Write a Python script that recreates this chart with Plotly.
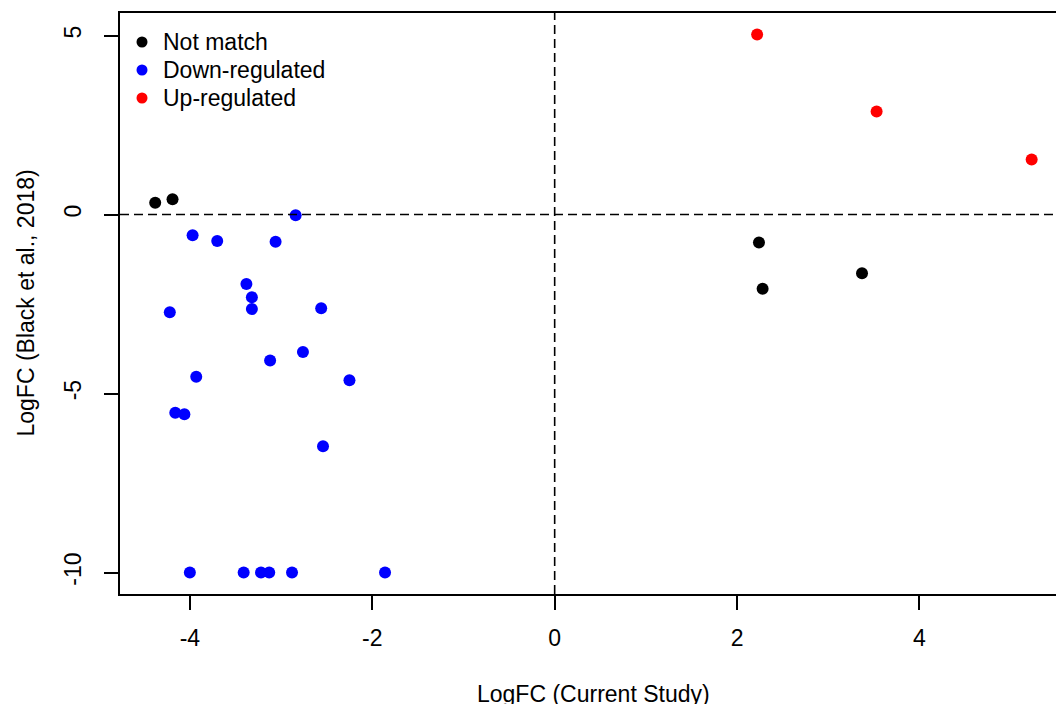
import plotly.graph_objects as go

# ---- data ----
nm_x = [-4.38, -4.19, 2.24, 2.28, 3.37]
nm_y = [0.33, 0.43, -0.78, -2.07, -1.64]

down_x = [-2.84, -3.97, -3.70, -3.06, -3.38, -3.32, -3.32, -4.22, -2.56, -2.76,
          -3.12, -3.93, -2.25, -4.16, -4.06, -2.54,
          -4.00, -3.41, -3.22, -3.13, -2.88, -1.86]
down_y = [-0.02, -0.58, -0.74, -0.76, -1.94, -2.31, -2.64, -2.73, -2.62, -3.84,
          -4.08, -4.53, -4.63, -5.54, -5.58, -6.47,
          -10.0, -10.0, -10.0, -10.0, -10.0, -10.0]

up_x = [2.22, 3.53, 5.23]
up_y = [5.03, 2.88, 1.54]

x_ticks = [-4, -2, 0, 2, 4]
y_ticks = [-10, -5, 0, 5]
x_title = "LogFC (Current Study)"
y_title = "LogFC (Black et al., 2018)"
legend_names = ["Not match", "Down-regulated", "Up-regulated"]
legend_colors = ["black", "#0000ff", "#ff0000"]

FONT = "Liberation Sans, Arial, sans-serif"
FS = 23

W, H = 1056, 704
ML, MR, MT, MB = 120, 0, 13, 110
PW, PH = W - ML - MR, H - MT - MB


def px_x(p):
    return (p - ML) / PW


def px_y(p):
    return (H - MB - p) / PH


fig = go.Figure()
for name, xs, ys, col in zip(legend_names, [nm_x, down_x, up_x], [nm_y, down_y, up_y],
                             legend_colors):
    fig.add_trace(go.Scatter(x=xs, y=ys, mode="markers", name=name, showlegend=False,
                             marker=dict(color=col, size=12, line=dict(width=0))))

dash_line = dict(color="black", width=1.6, dash="9px,5px")
shapes = [
    # reference lines at 0
    dict(type="line", xref="paper", yref="y", x0=0, x1=1, y0=0, y1=0, line=dash_line),
    dict(type="line", xref="x", yref="paper", x0=0, x1=0, y0=0, y1=1, line=dash_line),
]
annotations = []
# manual legend (R-style, no box)
for i, (name, col) in enumerate(zip(legend_names, legend_colors)):
    yc = px_y(42 + 28 * i)
    shapes.append(dict(type="circle", xref="paper", yref="paper",
                       xsizemode="pixel", ysizemode="pixel",
                       xanchor=px_x(142), yanchor=yc, x0=-5.5, x1=5.5, y0=-5.5, y1=5.5,
                       fillcolor=col, line=dict(width=0)))
    annotations.append(dict(text=name, xref="paper", yref="paper", x=px_x(161), y=yc,
                            xanchor="left", yanchor="middle", showarrow=False,
                            font=dict(size=FS)))

annotations += [
    dict(text=x_title, xref="paper", yref="paper", x=px_x(593), y=px_y(694),
         xanchor="center", yanchor="middle", showarrow=False, font=dict(size=FS)),
    dict(text=y_title, xref="paper", yref="paper", x=px_x(25), y=0.5,
         xanchor="center", yanchor="middle", showarrow=False, textangle=-90,
         font=dict(size=FS)),
]

fig.update_layout(
    width=W, height=H,
    margin=dict(l=ML, r=MR, t=MT, b=MB),
    paper_bgcolor="white", plot_bgcolor="white",
    font=dict(family=FONT, size=FS, color="black"),
    showlegend=False,
    shapes=shapes,
    annotations=annotations,
    xaxis=dict(range=[-4.766, 5.497], tickvals=x_ticks, ticktext=[str(v) for v in x_ticks],
               showgrid=False, zeroline=False, showline=True, mirror=True,
               linecolor="black", linewidth=1.5, ticks="outside", ticklen=14,
               tickwidth=1.5, tickcolor="black", ticklabelstandoff=9,
               tickfont=dict(size=FS, family=FONT, color="black")),
    yaxis=dict(range=[-10.60, 5.63], tickvals=y_ticks, ticktext=[str(v) for v in y_ticks],
               showgrid=False, zeroline=False, showline=True, mirror=False,
               linecolor="black", linewidth=1.5, ticks="outside", ticklen=14,
               tickwidth=1.5, tickcolor="black", tickangle=-90, ticklabelstandoff=14,
               tickfont=dict(size=FS, family=FONT, color="black")),
)

fig.write_html("out.html")
